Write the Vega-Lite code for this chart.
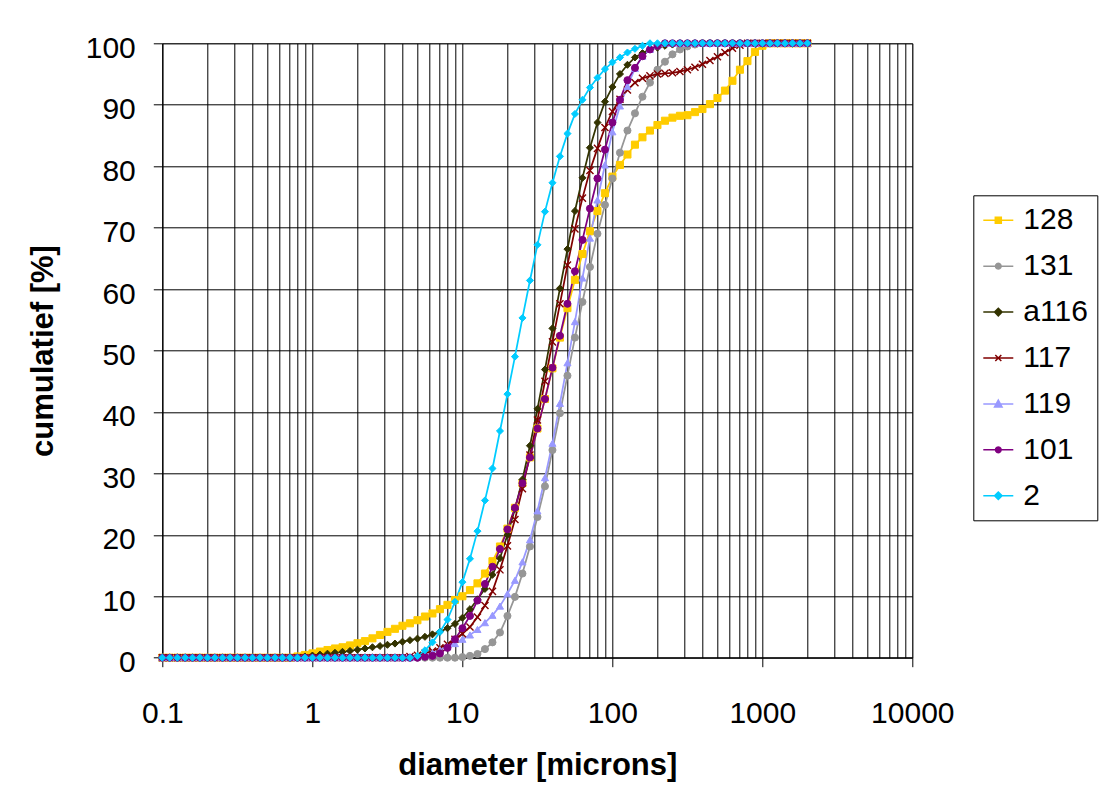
{
"$schema":"https://vega.github.io/schema/vega-lite/v6.json",
"width":750,"height":614.4,
"autosize":{"type":"none"},
"padding":{"left":162.3,"top":43.3,"right":187.7,"bottom":145.3},
"background":"white",
"config":{"font":"Liberation Sans","view":{"stroke":"#808080","strokeWidth":1}},
"data":{"values":[
{"s":"128","d":0.1,"v":0},{"s":"128","d":0.112,"v":0},{"s":"128","d":0.126,"v":0},{"s":"128","d":0.142,"v":0},{"s":"128","d":0.159,"v":0},{"s":"128","d":0.178,"v":0},{"s":"128","d":0.2,"v":0},{"s":"128","d":0.224,"v":0},{"s":"128","d":0.252,"v":0},{"s":"128","d":0.283,"v":0},
{"s":"128","d":0.317,"v":0},{"s":"128","d":0.356,"v":0},{"s":"128","d":0.399,"v":0},{"s":"128","d":0.448,"v":0},{"s":"128","d":0.502,"v":0},{"s":"128","d":0.564,"v":0},{"s":"128","d":0.632,"v":0},{"s":"128","d":0.71,"v":0},{"s":"128","d":0.796,"v":0.2},{"s":"128","d":0.893,"v":0.45},
{"s":"128","d":1.002,"v":0.7},{"s":"128","d":1.125,"v":1},{"s":"128","d":1.262,"v":1.25},{"s":"128","d":1.416,"v":1.5},{"s":"128","d":1.589,"v":1.7},{"s":"128","d":1.783,"v":2},{"s":"128","d":2,"v":2.35},{"s":"128","d":2.244,"v":2.7},{"s":"128","d":2.518,"v":3.15},{"s":"128","d":2.825,"v":3.7},
{"s":"128","d":3.17,"v":4.2},{"s":"128","d":3.557,"v":4.7},{"s":"128","d":3.991,"v":5.2},{"s":"128","d":4.477,"v":5.6},{"s":"128","d":5.024,"v":6.1},{"s":"128","d":5.637,"v":6.7},{"s":"128","d":6.325,"v":7.2},{"s":"128","d":7.096,"v":7.9},{"s":"128","d":7.962,"v":8.6},{"s":"128","d":8.934,"v":9.4},
{"s":"128","d":10.02,"v":10},{"s":"128","d":11.25,"v":11},{"s":"128","d":12.62,"v":12.1},{"s":"128","d":14.16,"v":13.7},{"s":"128","d":15.89,"v":15.7},{"s":"128","d":17.83,"v":18.1},{"s":"128","d":20,"v":21},{"s":"128","d":22.44,"v":24.4},{"s":"128","d":25.18,"v":28.4},{"s":"128","d":28.25,"v":32.6},
{"s":"128","d":31.7,"v":37.3},{"s":"128","d":35.57,"v":42.1},{"s":"128","d":39.91,"v":47.1},{"s":"128","d":44.77,"v":52.1},{"s":"128","d":50.24,"v":56.9},{"s":"128","d":56.37,"v":61.5},{"s":"128","d":63.25,"v":65.7},{"s":"128","d":70.96,"v":69.4},{"s":"128","d":79.62,"v":72.7},{"s":"128","d":89.34,"v":75.6},
{"s":"128","d":100.2,"v":78.3},{"s":"128","d":112.5,"v":80.2},{"s":"128","d":126.2,"v":81.9},{"s":"128","d":141.6,"v":83.5},{"s":"128","d":158.9,"v":84.7},{"s":"128","d":178.3,"v":85.8},{"s":"128","d":200,"v":86.7},{"s":"128","d":224.4,"v":87.4},{"s":"128","d":251.8,"v":87.9},{"s":"128","d":282.5,"v":88.2},
{"s":"128","d":317,"v":88.3},{"s":"128","d":355.7,"v":88.8},{"s":"128","d":399.1,"v":89.3},{"s":"128","d":447.7,"v":90.1},{"s":"128","d":502.4,"v":91.1},{"s":"128","d":563.7,"v":92.3},{"s":"128","d":632.5,"v":93.9},{"s":"128","d":709.6,"v":95.7},{"s":"128","d":796.2,"v":97.1},{"s":"128","d":893.4,"v":98.6},
{"s":"128","d":1002,"v":99.6},{"s":"128","d":1125,"v":100},{"s":"128","d":1262,"v":100},{"s":"128","d":1416,"v":100},{"s":"128","d":1589,"v":100},{"s":"128","d":1783,"v":100},{"s":"128","d":2000,"v":100},
{"s":"131","d":0.1,"v":0},{"s":"131","d":0.112,"v":0},{"s":"131","d":0.126,"v":0},{"s":"131","d":0.142,"v":0},{"s":"131","d":0.159,"v":0},{"s":"131","d":0.178,"v":0},{"s":"131","d":0.2,"v":0},{"s":"131","d":0.224,"v":0},{"s":"131","d":0.252,"v":0},{"s":"131","d":0.283,"v":0},
{"s":"131","d":0.317,"v":0},{"s":"131","d":0.356,"v":0},{"s":"131","d":0.399,"v":0},{"s":"131","d":0.448,"v":0},{"s":"131","d":0.502,"v":0},{"s":"131","d":0.564,"v":0},{"s":"131","d":0.632,"v":0},{"s":"131","d":0.71,"v":0},{"s":"131","d":0.796,"v":0},{"s":"131","d":0.893,"v":0},
{"s":"131","d":1.002,"v":0},{"s":"131","d":1.125,"v":0},{"s":"131","d":1.262,"v":0},{"s":"131","d":1.416,"v":0},{"s":"131","d":1.589,"v":0},{"s":"131","d":1.783,"v":0},{"s":"131","d":2,"v":0},{"s":"131","d":2.244,"v":0},{"s":"131","d":2.518,"v":0},{"s":"131","d":2.825,"v":0},
{"s":"131","d":3.17,"v":0},{"s":"131","d":3.557,"v":0},{"s":"131","d":3.991,"v":0},{"s":"131","d":4.477,"v":0},{"s":"131","d":5.024,"v":0},{"s":"131","d":5.637,"v":0},{"s":"131","d":6.325,"v":0},{"s":"131","d":7.096,"v":0},{"s":"131","d":7.962,"v":0},{"s":"131","d":8.934,"v":0},
{"s":"131","d":10.02,"v":0.1},{"s":"131","d":11.25,"v":0.3},{"s":"131","d":12.62,"v":0.6},{"s":"131","d":14.16,"v":1.4},{"s":"131","d":15.89,"v":2.5},{"s":"131","d":17.83,"v":4.1},{"s":"131","d":20,"v":6.8},{"s":"131","d":22.44,"v":9.9},{"s":"131","d":25.18,"v":13.7},{"s":"131","d":28.25,"v":18.1},
{"s":"131","d":31.7,"v":22.9},{"s":"131","d":35.57,"v":27.9},{"s":"131","d":39.91,"v":33.8},{"s":"131","d":44.77,"v":39.8},{"s":"131","d":50.24,"v":45.9},{"s":"131","d":56.37,"v":52.1},{"s":"131","d":63.25,"v":57.9},{"s":"131","d":70.96,"v":63.6},{"s":"131","d":79.62,"v":69},{"s":"131","d":89.34,"v":73.7},
{"s":"131","d":100.2,"v":78},{"s":"131","d":112.5,"v":82.2},{"s":"131","d":126.2,"v":85.8},{"s":"131","d":141.6,"v":88.6},{"s":"131","d":158.9,"v":91.3},{"s":"131","d":178.3,"v":93.6},{"s":"131","d":200,"v":95.7},{"s":"131","d":224.4,"v":97},{"s":"131","d":251.8,"v":98.2},{"s":"131","d":282.5,"v":99},
{"s":"131","d":317,"v":99.5},{"s":"131","d":355.7,"v":99.8},{"s":"131","d":399.1,"v":100},{"s":"131","d":447.7,"v":100},{"s":"131","d":502.4,"v":100},{"s":"131","d":563.7,"v":100},{"s":"131","d":632.5,"v":100},{"s":"131","d":709.6,"v":100},{"s":"131","d":796.2,"v":100},{"s":"131","d":893.4,"v":100},
{"s":"131","d":1002,"v":100},{"s":"131","d":1125,"v":100},{"s":"131","d":1262,"v":100},{"s":"131","d":1416,"v":100},{"s":"131","d":1589,"v":100},{"s":"131","d":1783,"v":100},{"s":"131","d":2000,"v":100},
{"s":"a116","d":0.1,"v":0},{"s":"a116","d":0.112,"v":0},{"s":"a116","d":0.126,"v":0},{"s":"a116","d":0.142,"v":0},{"s":"a116","d":0.159,"v":0},{"s":"a116","d":0.178,"v":0},{"s":"a116","d":0.2,"v":0},{"s":"a116","d":0.224,"v":0},{"s":"a116","d":0.252,"v":0},{"s":"a116","d":0.283,"v":0},
{"s":"a116","d":0.317,"v":0},{"s":"a116","d":0.356,"v":0},{"s":"a116","d":0.399,"v":0},{"s":"a116","d":0.448,"v":0},{"s":"a116","d":0.502,"v":0},{"s":"a116","d":0.564,"v":0},{"s":"a116","d":0.632,"v":0},{"s":"a116","d":0.71,"v":0},{"s":"a116","d":0.796,"v":0},{"s":"a116","d":0.893,"v":0.2},
{"s":"a116","d":1.002,"v":0.35},{"s":"a116","d":1.125,"v":0.5},{"s":"a116","d":1.262,"v":0.65},{"s":"a116","d":1.416,"v":0.8},{"s":"a116","d":1.589,"v":0.95},{"s":"a116","d":1.783,"v":1.1},{"s":"a116","d":2,"v":1.3},{"s":"a116","d":2.244,"v":1.5},{"s":"a116","d":2.518,"v":1.7},{"s":"a116","d":2.825,"v":1.9},
{"s":"a116","d":3.17,"v":2.1},{"s":"a116","d":3.557,"v":2.3},{"s":"a116","d":3.991,"v":2.6},{"s":"a116","d":4.477,"v":2.85},{"s":"a116","d":5.024,"v":3.1},{"s":"a116","d":5.637,"v":3.4},{"s":"a116","d":6.325,"v":3.8},{"s":"a116","d":7.096,"v":4.25},{"s":"a116","d":7.962,"v":4.8},{"s":"a116","d":8.934,"v":5.5},
{"s":"a116","d":10.02,"v":6.5},{"s":"a116","d":11.25,"v":7.9},{"s":"a116","d":12.62,"v":9.5},{"s":"a116","d":14.16,"v":11.2},{"s":"a116","d":15.89,"v":13.5},{"s":"a116","d":17.83,"v":16.2},{"s":"a116","d":20,"v":20},{"s":"a116","d":22.44,"v":24.2},{"s":"a116","d":25.18,"v":29},{"s":"a116","d":28.25,"v":34.5},
{"s":"a116","d":31.7,"v":40.5},{"s":"a116","d":35.57,"v":46.9},{"s":"a116","d":39.91,"v":53.6},{"s":"a116","d":44.77,"v":60.1},{"s":"a116","d":50.24,"v":66.5},{"s":"a116","d":56.37,"v":72.7},{"s":"a116","d":63.25,"v":78.1},{"s":"a116","d":70.96,"v":83},{"s":"a116","d":79.62,"v":87.1},{"s":"a116","d":89.34,"v":90.5},
{"s":"a116","d":100.2,"v":92.9},{"s":"a116","d":112.5,"v":95},{"s":"a116","d":126.2,"v":96.5},{"s":"a116","d":141.6,"v":97.7},{"s":"a116","d":158.9,"v":98.4},{"s":"a116","d":178.3,"v":99},{"s":"a116","d":200,"v":99.3},{"s":"a116","d":224.4,"v":99.6},{"s":"a116","d":251.8,"v":99.8},{"s":"a116","d":282.5,"v":100},
{"s":"a116","d":317,"v":100},{"s":"a116","d":355.7,"v":100},{"s":"a116","d":399.1,"v":100},{"s":"a116","d":447.7,"v":100},{"s":"a116","d":502.4,"v":100},{"s":"a116","d":563.7,"v":100},{"s":"a116","d":632.5,"v":100},{"s":"a116","d":709.6,"v":100},{"s":"a116","d":796.2,"v":100},{"s":"a116","d":893.4,"v":100},
{"s":"a116","d":1002,"v":100},{"s":"a116","d":1125,"v":100},{"s":"a116","d":1262,"v":100},{"s":"a116","d":1416,"v":100},{"s":"a116","d":1589,"v":100},{"s":"a116","d":1783,"v":100},{"s":"a116","d":2000,"v":100},
{"s":"117","d":0.1,"v":0},{"s":"117","d":0.112,"v":0},{"s":"117","d":0.126,"v":0},{"s":"117","d":0.142,"v":0},{"s":"117","d":0.159,"v":0},{"s":"117","d":0.178,"v":0},{"s":"117","d":0.2,"v":0},{"s":"117","d":0.224,"v":0},{"s":"117","d":0.252,"v":0},{"s":"117","d":0.283,"v":0},
{"s":"117","d":0.317,"v":0},{"s":"117","d":0.356,"v":0},{"s":"117","d":0.399,"v":0},{"s":"117","d":0.448,"v":0},{"s":"117","d":0.502,"v":0},{"s":"117","d":0.564,"v":0},{"s":"117","d":0.632,"v":0},{"s":"117","d":0.71,"v":0},{"s":"117","d":0.796,"v":0},{"s":"117","d":0.893,"v":0},
{"s":"117","d":1.002,"v":0},{"s":"117","d":1.125,"v":0},{"s":"117","d":1.262,"v":0},{"s":"117","d":1.416,"v":0},{"s":"117","d":1.589,"v":0},{"s":"117","d":1.783,"v":0},{"s":"117","d":2,"v":0},{"s":"117","d":2.244,"v":0},{"s":"117","d":2.518,"v":0},{"s":"117","d":2.825,"v":0},
{"s":"117","d":3.17,"v":0},{"s":"117","d":3.557,"v":0},{"s":"117","d":3.991,"v":0},{"s":"117","d":4.477,"v":0.2},{"s":"117","d":5.024,"v":0.4},{"s":"117","d":5.637,"v":0.7},{"s":"117","d":6.325,"v":1.1},{"s":"117","d":7.096,"v":1.6},{"s":"117","d":7.962,"v":2.2},{"s":"117","d":8.934,"v":3},
{"s":"117","d":10.02,"v":3.9},{"s":"117","d":11.25,"v":5},{"s":"117","d":12.62,"v":6.6},{"s":"117","d":14.16,"v":8.5},{"s":"117","d":15.89,"v":10.8},{"s":"117","d":17.83,"v":14.3},{"s":"117","d":20,"v":18.2},{"s":"117","d":22.44,"v":22.5},{"s":"117","d":25.18,"v":27.5},{"s":"117","d":28.25,"v":33},
{"s":"117","d":31.7,"v":38.7},{"s":"117","d":35.57,"v":45},{"s":"117","d":39.91,"v":51.4},{"s":"117","d":44.77,"v":57.6},{"s":"117","d":50.24,"v":63.9},{"s":"117","d":56.37,"v":69.8},{"s":"117","d":63.25,"v":74.8},{"s":"117","d":70.96,"v":79.3},{"s":"117","d":79.62,"v":82.9},{"s":"117","d":89.34,"v":86.3},
{"s":"117","d":100.2,"v":88.9},{"s":"117","d":112.5,"v":90.9},{"s":"117","d":126.2,"v":92.4},{"s":"117","d":141.6,"v":93.6},{"s":"117","d":158.9,"v":94.3},{"s":"117","d":178.3,"v":94.7},{"s":"117","d":200,"v":95},{"s":"117","d":224.4,"v":95.1},{"s":"117","d":251.8,"v":95.2},{"s":"117","d":282.5,"v":95.4},
{"s":"117","d":317,"v":95.7},{"s":"117","d":355.7,"v":96.1},{"s":"117","d":399.1,"v":96.6},{"s":"117","d":447.7,"v":97.2},{"s":"117","d":502.4,"v":97.8},{"s":"117","d":563.7,"v":98.5},{"s":"117","d":632.5,"v":99.2},{"s":"117","d":709.6,"v":99.7},{"s":"117","d":796.2,"v":100},{"s":"117","d":893.4,"v":100},
{"s":"117","d":1002,"v":100},{"s":"117","d":1125,"v":100},{"s":"117","d":1262,"v":100},{"s":"117","d":1416,"v":100},{"s":"117","d":1589,"v":100},{"s":"117","d":1783,"v":100},{"s":"117","d":2000,"v":100},
{"s":"119","d":0.1,"v":0},{"s":"119","d":0.112,"v":0},{"s":"119","d":0.126,"v":0},{"s":"119","d":0.142,"v":0},{"s":"119","d":0.159,"v":0},{"s":"119","d":0.178,"v":0},{"s":"119","d":0.2,"v":0},{"s":"119","d":0.224,"v":0},{"s":"119","d":0.252,"v":0},{"s":"119","d":0.283,"v":0},
{"s":"119","d":0.317,"v":0},{"s":"119","d":0.356,"v":0},{"s":"119","d":0.399,"v":0},{"s":"119","d":0.448,"v":0},{"s":"119","d":0.502,"v":0},{"s":"119","d":0.564,"v":0},{"s":"119","d":0.632,"v":0},{"s":"119","d":0.71,"v":0},{"s":"119","d":0.796,"v":0},{"s":"119","d":0.893,"v":0},
{"s":"119","d":1.002,"v":0},{"s":"119","d":1.125,"v":0},{"s":"119","d":1.262,"v":0},{"s":"119","d":1.416,"v":0},{"s":"119","d":1.589,"v":0},{"s":"119","d":1.783,"v":0},{"s":"119","d":2,"v":0},{"s":"119","d":2.244,"v":0},{"s":"119","d":2.518,"v":0},{"s":"119","d":2.825,"v":0},
{"s":"119","d":3.17,"v":0},{"s":"119","d":3.557,"v":0},{"s":"119","d":3.991,"v":0},{"s":"119","d":4.477,"v":0},{"s":"119","d":5.024,"v":0.15},{"s":"119","d":5.637,"v":0.4},{"s":"119","d":6.325,"v":0.8},{"s":"119","d":7.096,"v":1.3},{"s":"119","d":7.962,"v":1.8},{"s":"119","d":8.934,"v":2.3},
{"s":"119","d":10.02,"v":3},{"s":"119","d":11.25,"v":3.7},{"s":"119","d":12.62,"v":4.6},{"s":"119","d":14.16,"v":5.7},{"s":"119","d":15.89,"v":6.9},{"s":"119","d":17.83,"v":8.4},{"s":"119","d":20,"v":10.4},{"s":"119","d":22.44,"v":12.6},{"s":"119","d":25.18,"v":15.6},{"s":"119","d":28.25,"v":19.2},
{"s":"119","d":31.7,"v":23.9},{"s":"119","d":35.57,"v":29.3},{"s":"119","d":39.91,"v":34.9},{"s":"119","d":44.77,"v":41.4},{"s":"119","d":50.24,"v":48},{"s":"119","d":56.37,"v":54.7},{"s":"119","d":63.25,"v":61.8},{"s":"119","d":70.96,"v":68.3},{"s":"119","d":79.62,"v":74.5},{"s":"119","d":89.34,"v":80.2},
{"s":"119","d":100.2,"v":85.6},{"s":"119","d":112.5,"v":89.8},{"s":"119","d":126.2,"v":93},{"s":"119","d":141.6,"v":95.9},{"s":"119","d":158.9,"v":97.9},{"s":"119","d":178.3,"v":99},{"s":"119","d":200,"v":99.6},{"s":"119","d":224.4,"v":100},{"s":"119","d":251.8,"v":100},{"s":"119","d":282.5,"v":100},
{"s":"119","d":317,"v":100},{"s":"119","d":355.7,"v":100},{"s":"119","d":399.1,"v":100},{"s":"119","d":447.7,"v":100},{"s":"119","d":502.4,"v":100},{"s":"119","d":563.7,"v":100},{"s":"119","d":632.5,"v":100},{"s":"119","d":709.6,"v":100},{"s":"119","d":796.2,"v":100},{"s":"119","d":893.4,"v":100},
{"s":"119","d":1002,"v":100},{"s":"119","d":1125,"v":100},{"s":"119","d":1262,"v":100},{"s":"119","d":1416,"v":100},{"s":"119","d":1589,"v":100},{"s":"119","d":1783,"v":100},{"s":"119","d":2000,"v":100},
{"s":"101","d":0.1,"v":0},{"s":"101","d":0.112,"v":0},{"s":"101","d":0.126,"v":0},{"s":"101","d":0.142,"v":0},{"s":"101","d":0.159,"v":0},{"s":"101","d":0.178,"v":0},{"s":"101","d":0.2,"v":0},{"s":"101","d":0.224,"v":0},{"s":"101","d":0.252,"v":0},{"s":"101","d":0.283,"v":0},
{"s":"101","d":0.317,"v":0},{"s":"101","d":0.356,"v":0},{"s":"101","d":0.399,"v":0},{"s":"101","d":0.448,"v":0},{"s":"101","d":0.502,"v":0},{"s":"101","d":0.564,"v":0},{"s":"101","d":0.632,"v":0},{"s":"101","d":0.71,"v":0},{"s":"101","d":0.796,"v":0},{"s":"101","d":0.893,"v":0},
{"s":"101","d":1.002,"v":0},{"s":"101","d":1.125,"v":0},{"s":"101","d":1.262,"v":0},{"s":"101","d":1.416,"v":0},{"s":"101","d":1.589,"v":0},{"s":"101","d":1.783,"v":0},{"s":"101","d":2,"v":0},{"s":"101","d":2.244,"v":0},{"s":"101","d":2.518,"v":0},{"s":"101","d":2.825,"v":0},
{"s":"101","d":3.17,"v":0},{"s":"101","d":3.557,"v":0},{"s":"101","d":3.991,"v":0},{"s":"101","d":4.477,"v":0},{"s":"101","d":5.024,"v":0},{"s":"101","d":5.637,"v":0.15},{"s":"101","d":6.325,"v":0.3},{"s":"101","d":7.096,"v":0.7},{"s":"101","d":7.962,"v":1.6},{"s":"101","d":8.934,"v":3},
{"s":"101","d":10.02,"v":4.8},{"s":"101","d":11.25,"v":6.8},{"s":"101","d":12.62,"v":9.3},{"s":"101","d":14.16,"v":12},{"s":"101","d":15.89,"v":14.8},{"s":"101","d":17.83,"v":17.7},{"s":"101","d":20,"v":20.9},{"s":"101","d":22.44,"v":24.4},{"s":"101","d":25.18,"v":28.4},{"s":"101","d":28.25,"v":32.6},
{"s":"101","d":31.7,"v":37.3},{"s":"101","d":35.57,"v":42.1},{"s":"101","d":39.91,"v":47.2},{"s":"101","d":44.77,"v":52.4},{"s":"101","d":50.24,"v":57.6},{"s":"101","d":56.37,"v":62.9},{"s":"101","d":63.25,"v":68},{"s":"101","d":70.96,"v":73.1},{"s":"101","d":79.62,"v":78},{"s":"101","d":89.34,"v":82.7},
{"s":"101","d":100.2,"v":87.1},{"s":"101","d":112.5,"v":90.8},{"s":"101","d":126.2,"v":94},{"s":"101","d":141.6,"v":96},{"s":"101","d":158.9,"v":97.9},{"s":"101","d":178.3,"v":99},{"s":"101","d":200,"v":99.6},{"s":"101","d":224.4,"v":100},{"s":"101","d":251.8,"v":100},{"s":"101","d":282.5,"v":100},
{"s":"101","d":317,"v":100},{"s":"101","d":355.7,"v":100},{"s":"101","d":399.1,"v":100},{"s":"101","d":447.7,"v":100},{"s":"101","d":502.4,"v":100},{"s":"101","d":563.7,"v":100},{"s":"101","d":632.5,"v":100},{"s":"101","d":709.6,"v":100},{"s":"101","d":796.2,"v":100},{"s":"101","d":893.4,"v":100},
{"s":"101","d":1002,"v":100},{"s":"101","d":1125,"v":100},{"s":"101","d":1262,"v":100},{"s":"101","d":1416,"v":100},{"s":"101","d":1589,"v":100},{"s":"101","d":1783,"v":100},{"s":"101","d":2000,"v":100},
{"s":"2","d":0.1,"v":0},{"s":"2","d":0.112,"v":0},{"s":"2","d":0.126,"v":0},{"s":"2","d":0.142,"v":0},{"s":"2","d":0.159,"v":0},{"s":"2","d":0.178,"v":0},{"s":"2","d":0.2,"v":0},{"s":"2","d":0.224,"v":0},{"s":"2","d":0.252,"v":0},{"s":"2","d":0.283,"v":0},
{"s":"2","d":0.317,"v":0},{"s":"2","d":0.356,"v":0},{"s":"2","d":0.399,"v":0},{"s":"2","d":0.448,"v":0},{"s":"2","d":0.502,"v":0},{"s":"2","d":0.564,"v":0},{"s":"2","d":0.632,"v":0},{"s":"2","d":0.71,"v":0},{"s":"2","d":0.796,"v":0},{"s":"2","d":0.893,"v":0},
{"s":"2","d":1.002,"v":0},{"s":"2","d":1.125,"v":0},{"s":"2","d":1.262,"v":0},{"s":"2","d":1.416,"v":0},{"s":"2","d":1.589,"v":0},{"s":"2","d":1.783,"v":0},{"s":"2","d":2,"v":0},{"s":"2","d":2.244,"v":0},{"s":"2","d":2.518,"v":0},{"s":"2","d":2.825,"v":0},
{"s":"2","d":3.17,"v":0},{"s":"2","d":3.557,"v":0},{"s":"2","d":3.991,"v":0},{"s":"2","d":4.477,"v":0},{"s":"2","d":5.024,"v":0.3},{"s":"2","d":5.637,"v":1.2},{"s":"2","d":6.325,"v":2.5},{"s":"2","d":7.096,"v":4.2},{"s":"2","d":7.962,"v":6.2},{"s":"2","d":8.934,"v":9.1},
{"s":"2","d":10.02,"v":12.3},{"s":"2","d":11.25,"v":16.1},{"s":"2","d":12.62,"v":20.6},{"s":"2","d":14.16,"v":25.6},{"s":"2","d":15.89,"v":30.8},{"s":"2","d":17.83,"v":36.9},{"s":"2","d":20,"v":42.9},{"s":"2","d":22.44,"v":49},{"s":"2","d":25.18,"v":55.3},{"s":"2","d":28.25,"v":61.4},
{"s":"2","d":31.7,"v":67.2},{"s":"2","d":35.57,"v":72.6},{"s":"2","d":39.91,"v":77.3},{"s":"2","d":44.77,"v":81.6},{"s":"2","d":50.24,"v":85.3},{"s":"2","d":56.37,"v":88.5},{"s":"2","d":63.25,"v":90.8},{"s":"2","d":70.96,"v":92.8},{"s":"2","d":79.62,"v":94.4},{"s":"2","d":89.34,"v":95.8},
{"s":"2","d":100.2,"v":96.9},{"s":"2","d":112.5,"v":97.7},{"s":"2","d":126.2,"v":98.5},{"s":"2","d":141.6,"v":99.1},{"s":"2","d":158.9,"v":99.6},{"s":"2","d":178.3,"v":100},{"s":"2","d":200,"v":100},{"s":"2","d":224.4,"v":100},{"s":"2","d":251.8,"v":100},{"s":"2","d":282.5,"v":100},
{"s":"2","d":317,"v":100},{"s":"2","d":355.7,"v":100},{"s":"2","d":399.1,"v":100},{"s":"2","d":447.7,"v":100},{"s":"2","d":502.4,"v":100},{"s":"2","d":563.7,"v":100},{"s":"2","d":632.5,"v":100},{"s":"2","d":709.6,"v":100},{"s":"2","d":796.2,"v":100},{"s":"2","d":893.4,"v":100},
{"s":"2","d":1002,"v":100},{"s":"2","d":1125,"v":100},{"s":"2","d":1262,"v":100},{"s":"2","d":1416,"v":100},{"s":"2","d":1589,"v":100},{"s":"2","d":1783,"v":100},{"s":"2","d":2000,"v":100}
]},
"layer":[
{"mark":{"type":"line","strokeWidth":1.75,"interpolate":"linear"},
 "encoding":{
  "x":{"field":"d","type":"quantitative","scale":{"type":"log","domain":[0.1,10000],"nice":false},
   "axis":{"values":[0.1,0.2,0.3,0.4,0.5,0.6,0.7,0.8,0.9,1,2,3,4,5,6,7,8,9,10,20,30,40,50,60,70,80,90,100,200,300,400,500,600,700,800,900,1000,2000,3000,4000,5000,6000,7000,8000,9000,10000],
    "grid":true,"gridColor":"#000000","gridWidth":1,"gridOpacity":1,
    "domainColor":"#000000","domainWidth":1,"tickColor":"#000000","tickSize":9,
    "tickOpacity":{"condition":{"test":"indexof([0.1,1,10,100,1000,10000], datum.value) >= 0","value":1},"value":0},
    "labelExpr":"indexof([0.1,1,10,100,1000,10000], datum.value) >= 0 ? format(datum.value, '~g') : ''",
    "labelOverlap":false,"labelFlush":false,"labelBound":false,
    "labelFont":"Liberation Sans","labelFontSize":30,"labelColor":"#000000","labelPadding":32,
    "title":"diameter [microns]","titleFont":"Liberation Sans","titleFontSize":31,"titleFontWeight":"bold","titleColor":"#000000","titlePadding":22}},
  "y":{"field":"v","type":"quantitative","scale":{"domain":[0,100],"nice":false},
   "axis":{"values":[0,10,20,30,40,50,60,70,80,90,100],
    "grid":true,"gridColor":"#000000","gridWidth":1,"gridOpacity":1,
    "domainColor":"#000000","domainWidth":1,"tickColor":"#000000","tickSize":9,
    "labelFont":"Liberation Sans","labelFontSize":30,"labelColor":"#000000","labelPadding":18,"labelOffset":5,
    "title":"cumulatief [%]","titleFont":"Liberation Sans","titleFontSize":31,"titleFontWeight":"bold","titleColor":"#000000","titlePadding":26}},
  "color":{"field":"s","type":"nominal",
   "scale":{"domain":["128","131","a116","117","119","101","2"],"range":["#FFCC00","#969696","#333300","#800000","#9999FF","#800080","#00CCFF"]},
   "legend":{"orient":"none","direction":"vertical","legendX":811,"legendY":152,"title":null,
    "strokeColor":"#000000","fillColor":"#ffffff","padding":9,"rowPadding":14.9,
    "labelFont":"Liberation Sans","labelFontSize":30,"labelColor":"#000000","labelOffset":9,"symbolSize":900,"symbolStrokeWidth":1.5,
    "encode":{"symbols":{"update":{"strokeWidth":{"value":1.5},"size":{"value":900},"opacity":{"value":1}}}}}}
 }},
{"mark":{"type":"point","filled":true,"opacity":0},
 "encoding":{
  "x":{"field":"d","type":"quantitative"},
  "y":{"field":"v","type":"quantitative"},
  "color":{"field":"s","type":"nominal",
   "legend":{"orient":"none","direction":"vertical","legendX":811,"legendY":152,"title":null,
    "strokeColor":"#000000","fillColor":"#ffffff","padding":9,"rowPadding":14.9,
    "labelFont":"Liberation Sans","labelFontSize":30,"labelColor":"#000000","labelOffset":9,"symbolSize":900,"symbolStrokeWidth":1.5}},
  "shape":{"field":"s","type":"nominal",
   "scale":{"domain":["128","131","a116","117","119","101","2"],
    "range":["M-1,0L1,0M-0.2,-0.2L0.2,-0.2L0.2,0.2L-0.2,0.2Z",
     "M-1,0L1,0M0.19,0L0.165,0.095L0.095,0.165L0,0.19L-0.095,0.165L-0.165,0.095L-0.19,0L-0.165,-0.095L-0.095,-0.165L0,-0.19L0.095,-0.165L0.165,-0.095Z",
     "M-1,0L1,0M0,-0.25L0.25,0L0,0.25L-0.25,0Z",
     "M-1,0L1,0M-0.2,-0.2L0.2,0.2M-0.2,0.2L0.2,-0.2",
     "M-1,0L1,0M0,-0.25L0.25,0.2L-0.25,0.2Z",
     "M-1,0L1,0M0.19,0L0.165,0.095L0.095,0.165L0,0.19L-0.095,0.165L-0.165,0.095L-0.19,0L-0.165,-0.095L-0.095,-0.165L0,-0.19L0.095,-0.165L0.165,-0.095Z",
     "M-1,0L1,0M0,-0.25L0.25,0L0,0.25L-0.25,0Z"]},
   "legend":{"orient":"none","direction":"vertical","legendX":811,"legendY":152,"title":null,
    "strokeColor":"#000000","fillColor":"#ffffff","padding":9,"rowPadding":14.9,
    "labelFont":"Liberation Sans","labelFontSize":30,"labelColor":"#000000","labelOffset":9,"symbolSize":900,"symbolStrokeWidth":1.5}}
 }},
{"transform":[{"filter":"datum.s==='128'"}],"mark":{"type":"point","shape":"square","filled":true,"color":"#FFCC00","stroke":"#FFCC00","strokeWidth":1,"size":50,"opacity":1},"encoding":{"x":{"field":"d","type":"quantitative"},"y":{"field":"v","type":"quantitative"}}},
{"transform":[{"filter":"datum.s==='131'"}],"mark":{"type":"point","shape":"circle","filled":true,"color":"#969696","stroke":"#969696","strokeWidth":1,"size":50,"opacity":1},"encoding":{"x":{"field":"d","type":"quantitative"},"y":{"field":"v","type":"quantitative"}}},
{"transform":[{"filter":"datum.s==='a116'"}],"mark":{"type":"point","shape":"diamond","filled":true,"color":"#333300","stroke":"#333300","strokeWidth":1,"size":50,"opacity":1},"encoding":{"x":{"field":"d","type":"quantitative"},"y":{"field":"v","type":"quantitative"}}},
{"transform":[{"filter":"datum.s==='117'"}],"mark":{"type":"point","shape":"M-1,-1L1,1M-1,1L1,-1","filled":false,"color":"#800000","stroke":"#800000","strokeWidth":1.4,"size":50,"opacity":1},"encoding":{"x":{"field":"d","type":"quantitative"},"y":{"field":"v","type":"quantitative"}}},
{"transform":[{"filter":"datum.s==='119'"}],"mark":{"type":"point","shape":"triangle-up","filled":true,"color":"#9999FF","stroke":"#9999FF","strokeWidth":1,"size":50,"opacity":1},"encoding":{"x":{"field":"d","type":"quantitative"},"y":{"field":"v","type":"quantitative"}}},
{"transform":[{"filter":"datum.s==='101'"}],"mark":{"type":"point","shape":"circle","filled":true,"color":"#800080","stroke":"#800080","strokeWidth":1,"size":50,"opacity":1},"encoding":{"x":{"field":"d","type":"quantitative"},"y":{"field":"v","type":"quantitative"}}},
{"transform":[{"filter":"datum.s==='2'"}],"mark":{"type":"point","shape":"diamond","filled":true,"color":"#00CCFF","stroke":"#00CCFF","strokeWidth":1,"size":50,"opacity":1},"encoding":{"x":{"field":"d","type":"quantitative"},"y":{"field":"v","type":"quantitative"}}}
]
}
